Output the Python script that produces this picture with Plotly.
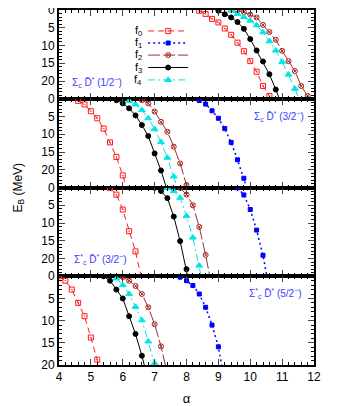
import plotly.graph_objects as go
from plotly.subplots import make_subplots

# binding energies E_B (MeV) vs alpha, one block per channel (panel)
# panel 1: Sigma_c Dbar* (1/2-)
p1_f0_a = [8.4, 8.6, 8.8, 9.0, 9.2, 9.4, 9.6, 9.8, 10.0, 10.2, 10.4, 10.6, 10.8]
p1_f0_e = [0.2, 1.1, 2.5, 3.5, 5.2, 7.0, 9.2, 11.6, 14.4, 17.4, 21.4, 24.2, 28.0]
p1_f2_a = [9.6, 9.8, 10.0, 10.2, 10.4, 10.6, 10.8, 11.0, 11.2, 11.4, 11.6, 11.8, 12.0]
p1_f2_e = [0.1, 0.6, 1.3, 2.1, 4.2, 6.2, 8.4, 11.5, 14.4, 17.2, 21.4, 24.2, 28.0]
p1_f3_a = [9.0, 9.2, 9.4, 9.6, 9.8, 10.0, 10.2, 10.4, 10.6, 10.8, 11.0]
p1_f3_e = [0.2, 1.2, 2.1, 3.4, 5.3, 8.2, 11.4, 14.5, 18.1, 22.4, 27.0]
p1_f4_a = [9.4, 9.6, 9.8, 10.0, 10.2, 10.4, 10.6, 10.8, 11.0, 11.2, 11.4, 11.6]
p1_f4_e = [0.2, 1.1, 2.0, 3.0, 4.3, 6.3, 8.8, 11.4, 14.6, 18.2, 22.2, 26.5]

# panel 2: Sigma_c Dbar* (3/2-)
p2_f0_a = [4.6, 4.8, 5.0, 5.2, 5.4, 5.6, 5.8, 6.0, 6.2]
p2_f0_e = [0.6, 1.6, 3.5, 5.5, 8.4, 12.3, 16.4, 21.6, 27.5]
p2_f1_a = [8.4, 8.6, 8.8, 9.0, 9.2, 9.4, 9.6, 9.8, 10.0]
p2_f1_e = [0.5, 1.5, 3.4, 5.5, 8.4, 12.3, 17.2, 22.4, 28.0]
p2_f2_a = [6.6, 6.8, 7.0, 7.2, 7.4, 7.6, 7.8, 8.0, 8.2]
p2_f2_e = [0.4, 1.3, 3.6, 6.5, 9.3, 13.5, 18.2, 24.3, 30.0]
p2_f3_a = [5.8, 6.0, 6.2, 6.4, 6.6, 6.8, 7.0, 7.2, 7.4]
p2_f3_e = [0.4, 1.3, 2.7, 4.7, 7.4, 10.5, 15.4, 20.2, 26.0]
p2_f4_a = [6.2, 6.4, 6.6, 6.8, 7.0, 7.2, 7.4, 7.6, 7.8]
p2_f4_e = [0.6, 1.6, 3.2, 5.5, 8.6, 12.2, 16.6, 21.9, 27.5]

# panel 3: Sigma*_c Dbar* (3/2-)
p3_f0_a = [5.6, 5.8, 6.0, 6.2, 6.4, 6.6]
p3_f0_e = [0.1, 2.0, 6.2, 12.3, 18.0, 26.0]
p3_f1_a = [9.6, 9.8, 10.0, 10.2, 10.4, 10.6]
p3_f1_e = [0.1, 2.1, 6.2, 12.0, 19.1, 29.0]
p3_f2_a = [7.8, 8.0, 8.2, 8.4, 8.6, 8.8]
p3_f2_e = [0.1, 2.0, 5.0, 11.1, 19.0, 28.2]
p3_f3_a = [7.0, 7.2, 7.4, 7.6, 7.8, 8.0, 8.2]
p3_f3_e = [0.1, 1.0, 3.0, 8.2, 15.1, 23.0, 32.0]
p3_f4_a = [7.4, 7.6, 7.8, 8.0, 8.2, 8.4, 8.6]
p3_f4_e = [0.1, 1.0, 2.9, 8.0, 14.1, 22.0, 31.0]

# panel 4: Sigma*_c Dbar* (5/2-)
p4_f0_a = [4.0, 4.2, 4.4, 4.6, 4.8, 5.0, 5.2, 5.4]
p4_f0_e = [0.0, 1.0, 3.0, 6.0, 9.0, 13.8, 18.8, 24.0]
p4_f1_a = [7.8, 8.0, 8.2, 8.4, 8.6, 8.8, 9.0, 9.2]
p4_f1_e = [0.2, 1.0, 2.1, 4.0, 7.0, 11.0, 15.9, 24.0]
p4_f2_a = [6.0, 6.2, 6.4, 6.6, 6.8, 7.0, 7.2, 7.4]
p4_f2_e = [0.2, 1.0, 2.2, 4.0, 7.0, 10.8, 15.8, 22.0]
p4_f3_a = [5.4, 5.6, 5.8, 6.0, 6.2, 6.4, 6.6, 6.8]
p4_f3_e = [0.0, 1.0, 3.0, 5.0, 9.0, 13.0, 17.9, 23.5]
p4_f4_a = [5.8, 6.0, 6.2, 6.4, 6.6, 6.8, 7.0, 7.2]
p4_f4_e = [0.5, 2.0, 4.0, 6.9, 9.9, 14.7, 19.6, 25.0]

panel_labels = [
    "Σ<sub>c</sub> D\u0304<sup>*</sup> (1/2<sup>−</sup>)",
    "Σ<sub>c</sub> D\u0304<sup>*</sup> (3/2<sup>−</sup>)",
    "Σ<sup>*</sup><sub>c</sub> D\u0304<sup>*</sup> (3/2<sup>−</sup>)",
    "Σ<sup>*</sup><sub>c</sub> D\u0304<sup>*</sup> (5/2<sup>−</sup>)",
]
legend_labels = ["f<sub>0</sub>", "f<sub>1</sub>", "f<sub>2</sub>", "f<sub>3</sub>", "f<sub>4</sub>"]

series = {
    "f0": [(1, p1_f0_a, p1_f0_e), (2, p2_f0_a, p2_f0_e), (3, p3_f0_a, p3_f0_e), (4, p4_f0_a, p4_f0_e)],
    "f1": [(2, p2_f1_a, p2_f1_e), (3, p3_f1_a, p3_f1_e), (4, p4_f1_a, p4_f1_e)],
    "f2": [(1, p1_f2_a, p1_f2_e), (2, p2_f2_a, p2_f2_e), (3, p3_f2_a, p3_f2_e), (4, p4_f2_a, p4_f2_e)],
    "f3": [(1, p1_f3_a, p1_f3_e), (2, p2_f3_a, p2_f3_e), (3, p3_f3_a, p3_f3_e), (4, p4_f3_a, p4_f3_e)],
    "f4": [(1, p1_f4_a, p1_f4_e), (2, p2_f4_a, p2_f4_e), (3, p3_f4_a, p3_f4_e), (4, p4_f4_a, p4_f4_e)],
}

styles = {
    "f0": dict(color="#ff1a1a", dash="6px,4px", symbol="square-open-dot", size=5, width=1),
    "f1": dict(color="#0000ff", dash="2px,3px", symbol="square", size=4, width=1.5),
    "f2": dict(color="#a52a2a", dash="12px,3px", symbol="circle-x-open", size=5, width=1),
    "f3": dict(color="#000000", dash="solid", symbol="circle", size=5, width=1),
    "f4": dict(color="#00e5e5", dash="7px,3px,2px,3px", symbol="triangle-up", size=6, width=1),
}

fig = make_subplots(rows=4, cols=1, shared_xaxes=True, vertical_spacing=0)

# one small legend per series so the rows can sit as tight as in the original
leg_names = ["legend", "legend2", "legend3", "legend4", "legend5"]
for k, (name, parts) in enumerate(series.items()):
    st = styles[name]
    first = True
    for row, a, e in parts:
        fig.add_trace(go.Scatter(
            x=a, y=e, mode="lines+markers",
            name=" ", legend=leg_names[k], legendgroup=name, showlegend=first,
            line=dict(color=st["color"], dash=st["dash"], width=st["width"]),
            marker=dict(symbol=st["symbol"], size=st["size"], color=st["color"],
                        line=dict(color=st["color"], width=1)),
        ), row=row, col=1)
        first = False

font = "Liberation Sans, Arial, sans-serif"
for r in range(1, 5):
    fig.update_xaxes(range=[4, 12], dtick=1, ticks="inside", ticklen=6, tickwidth=1,
                     showline=True, linewidth=2, linecolor="black", mirror="ticks",
                     showgrid=False, zeroline=False, automargin=False,
                     ticklabeloverflow="allow",
                     minor=dict(dtick=0.2, ticks="inside", ticklen=3, tickcolor="black"),
                     tickfont=dict(size=12, family=font, color="black"), row=r, col=1)
    fig.update_yaxes(range=[25, 0] if r < 4 else [20, 0], tickvals=[0, 5, 10, 15, 20],
                     ticks="inside", ticklen=6, tickwidth=1,
                     showline=True, linewidth=2, linecolor="black", mirror="ticks",
                     showgrid=False, zeroline=False, automargin=False,
                     ticklabeloverflow="allow",
                     minor=dict(dtick=1, ticks="inside", ticklen=3, tickcolor="black"),
                     tickfont=dict(size=12, family=font, color="black"), row=r, col=1)

fig.update_xaxes(title=dict(text="α", font=dict(size=13, family=font, color="black"), standoff=10),
                 row=4, col=1)

label_pos = [(5.2, 20.3), (10.9, 5.1), (5.3, 20.2), (10.8, 3.8)]
for i, (txt, (ax, ay)) in enumerate(zip(panel_labels, label_pos)):
    sfx = "" if i == 0 else str(i + 1)
    fig.add_annotation(x=ax, y=ay, xref="x" + sfx, yref="y" + sfx, text=txt, showarrow=False,
                       font=dict(size=10, family=font, color="#3c3cff"))

fig.add_annotation(x=-0.2, y=0.5, xref="paper", yref="paper", text="E<sub>B</sub> (MeV)",
                   textangle=-90, showarrow=False, font=dict(size=12, family=font, color="black"))

# legend rows: label text left of the line sample, as in the original key
leg_y = [0.941, 0.907, 0.873, 0.838, 0.803]
legends = {}
for k, ln in enumerate(leg_names):
    legends[ln] = dict(x=0.33, y=leg_y[k], xanchor="left", yanchor="middle",
                       bgcolor="rgba(0,0,0,0)", font=dict(size=4, family=font),
                       itemwidth=40, tracegroupgap=0, borderwidth=0)
    fig.add_annotation(x=0.335, y=leg_y[k], xref="paper", yref="paper", text=legend_labels[k],
                       xanchor="right", yanchor="middle", showarrow=False,
                       font=dict(size=11, family=font, color="black"))

fig.update_layout(
    width=340, height=406,
    margin=dict(l=51, r=34, t=2, b=49),
    paper_bgcolor="white", plot_bgcolor="white",
    showlegend=True,
    **legends,
)

fig.write_html("out.html")
